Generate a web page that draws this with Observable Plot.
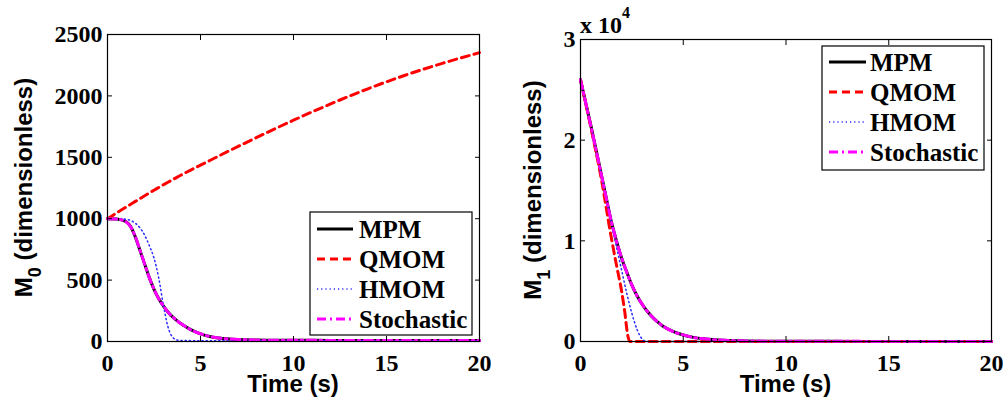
<!DOCTYPE html>
<html>
<head>
<meta charset="utf-8">
<script src="https://cdn.jsdelivr.net/npm/d3@7"></script>
<script src="https://cdn.jsdelivr.net/npm/@observablehq/plot@0.6"></script>
<style>
  html, body { margin: 0; padding: 0; background: #fff; color: #000; }
  #wrap { display: flex; width: 1008px; height: 403px; overflow: hidden; }
  #wrap svg { display: block; }
</style>
</head>
<body>
<div id="wrap"><div id="p0"></div><div id="p1"></div></div>
<script>
// ---------- data ----------
const seriesNames = ["MPM", "QMOM", "HMOM", "Stochastic"];
const xTicks = [0, 5, 10, 15, 20];
const y0Ticks = [0, 500, 1000, 1500, 2000, 2500];
const y1Ticks = [0, 10000, 20000, 30000];

// Left panel: M0
const t0 =      [0,    0.5,  1,    1.25, 1.5,  1.75, 2,    2.25, 2.5,  2.75, 3,    3.25, 3.5,  3.75, 4,    4.5,  5,    5.5,  6,    7,    8,    9,    10,   12,   14,   16,   18,   20];
const mpmM0 =   [1000, 998,  975,  935,  850,  740,  630,  520,  425,  350,  290,  240,  200,  168,  140,  95,   62,   40,   28,   16,   12,   10,   10,   9,    9,    9,    9,    9];
const qmomM0 =  [1000, 1048, 1095, 1118, 1141, 1164, 1187, 1210, 1232, 1254, 1276, 1297, 1318, 1339, 1359, 1398, 1436, 1474, 1512, 1587, 1660, 1732, 1802, 1935, 2058, 2168, 2265, 2352];
const hmomM0 =  [1000, 1000, 995,  985,  962,  925,  865,  780,  680,  520,  300,  120,  35,   12,   8,    7,    6,    6,    6,    6,    6,    6,    6,    6,    6,    6,    6,    6];
const stochM0 = [1000, 997,  973,  933,  852,  742,  628,  518,  427,  348,  291,  239,  201,  167,  141,  94,   63,   41,   28,   17,   12,   10,   10,   9,    9,    9,    9,    9];

// Right panel: M1
const t1 =      [0,     0.5,   1,     1.25,  1.5,   1.75,  2,    2.25, 2.5,  2.75, 3,    3.25, 3.5,  3.75, 4,    4.5,  5,   5.5, 6,   7,   8,  9,  10, 12, 14, 16, 18, 20];
const mpmM1 =   [26000, 21500, 16700, 14300, 11900, 10000, 8300, 6900, 5600, 4550, 3700, 3000, 2420, 1940, 1550, 1000, 640, 410, 270, 120, 60, 35, 25, 15, 12, 10, 10, 10];
const stochM1 = [26000, 21450, 16720, 14280, 11930, 9980,  8310, 6880, 5620, 4540, 3710, 2990, 2430, 1930, 1560, 990,  650, 400, 270, 120, 60, 35, 25, 15, 12, 10, 10, 10];
const tQ1 =     [0,     0.5,   1,     1.5,   1.75, 2,    2.15, 2.3, 2.4, 3, 5, 10, 15, 20];
const qmomM1 =  [26000, 21300, 16300, 10300, 7600, 5000, 3000, 600, 0,   0, 0, 0,  0,  0];
const tH1 =     [0,     0.5,   1,     1.5,   1.75, 2,    2.25, 2.5,  2.75, 3,   3.2, 4, 5, 10, 15, 20];
const hmomM1 =  [26000, 21500, 16600, 11800, 9400, 7100, 4800, 2800, 1200, 250, 0,   0, 0, 0,  0,  0];

// ---------- styles ----------
const styles = {
  MPM:        {stroke: "#000000", strokeWidth: 3},
  QMOM:       {stroke: "#ff0000", strokeWidth: 3, strokeDasharray: "8,5"},
  HMOM:       {stroke: "#2a2aff", strokeWidth: 1.5, strokeDasharray: "1.2,3"},
  Stochastic: {stroke: "#ff00ff", strokeWidth: 3, strokeDasharray: "9,4,2,4"}
};
const serif = "'Liberation Serif', 'Times New Roman', serif";
const sans = "'Liberation Sans', Arial, Helvetica, sans-serif";

const rows = (t, v) => t.map((x, i) => ({t: x, v: v[i]}));

function makePanel(cfg) {
  const plot = Plot.plot({
    width: 504,
    height: 403,
    marginLeft: cfg.ml, marginRight: cfg.mr, marginTop: cfg.mt, marginBottom: 62,
    style: {background: "white", color: "black", overflow: "visible"},
    x: {domain: [0, 20], label: null},
    y: {domain: cfg.yDomain, label: null},
    marks: [
      Plot.line(rows(cfg.series[0].t, cfg.series[0].v), {x: "t", y: "v", curve: "monotone-x", ...styles.MPM}),
      Plot.line(rows(cfg.series[1].t, cfg.series[1].v), {x: "t", y: "v", curve: "monotone-x", ...styles.QMOM}),
      Plot.line(rows(cfg.series[2].t, cfg.series[2].v), {x: "t", y: "v", curve: "monotone-x", ...styles.HMOM}),
      Plot.line(rows(cfg.series[3].t, cfg.series[3].v), {x: "t", y: "v", curve: "monotone-x", ...styles.Stochastic}),
      Plot.axisX({ticks: xTicks, tickSize: -5, tickPadding: 17, label: null}),
      Plot.axisX({anchor: "top", ticks: xTicks, tickSize: -5, tickFormat: () => "", label: null}),
      Plot.axisY({ticks: cfg.yTicks, tickSize: -5, tickPadding: 10, label: null, tickFormat: cfg.yFormat}),
      Plot.axisY({anchor: "right", ticks: cfg.yTicks, tickSize: -5, tickFormat: () => "", label: null}),
      Plot.frame({stroke: "black", strokeWidth: 1.2})
    ]
  });
  const svg = d3.select(plot);
  // style the library's tick labels (the only texts present so far)
  svg.selectAll("text")
    .attr("font-family", serif).attr("font-weight", "bold").attr("font-size", 24)
    .style("font-family", serif).style("font-weight", "bold").style("font-size", "24px");
  const W = 504, H = 403;
  const cx = (cfg.ml + (W - cfg.mr)) / 2;
  const cy = (cfg.mt + (H - 62)) / 2;

  // x label
  svg.append("text")
    .attr("x", cx).attr("y", 392)
    .attr("text-anchor", "middle")
    .style("font-family", sans).style("font-weight", "bold").style("font-size", "24px")
    .attr("fill", "black")
    .text("Time (s)");

  // y label with subscript
  const yl = svg.append("text")
    .attr("transform", `translate(${cfg.ylx},${cy}) rotate(-90)`)
    .attr("text-anchor", "middle")
    .style("font-family", sans).style("font-weight", "bold").style("font-size", "24px")
    .attr("fill", "black");
  yl.append("tspan").text("M");
  yl.append("tspan").attr("dy", 9).style("font-size", "18px").text(cfg.sub);
  yl.append("tspan").attr("dy", -9).text(" (dimensionless)");

  // exponent label
  if (cfg.exponent) {
    const ex = svg.append("text")
      .attr("x", cfg.ml).attr("y", 33)
      .attr("text-anchor", "start")
      .style("font-family", serif).style("font-weight", "bold").style("font-size", "24px")
      .attr("fill", "black");
    ex.append("tspan").text("x 10");
    ex.append("tspan").attr("dy", -15).style("font-size", "16px").text(cfg.exponent);
  }

  // legend
  const L = cfg.legend;
  const lg = svg.append("g");
  lg.append("rect")
    .attr("x", L.x0).attr("y", L.y0).attr("width", L.x1 - L.x0).attr("height", L.y1 - L.y0)
    .attr("fill", "white").attr("stroke", "black").attr("stroke-width", 1.2);
  seriesNames.forEach((name, i) => {
    const base = L.base0 + i * 30;
    const s = styles[name];
    lg.append("line")
      .attr("x1", L.lx0).attr("x2", L.lx1).attr("y1", base - 9).attr("y2", base - 9)
      .attr("stroke", s.stroke).attr("stroke-width", s.strokeWidth)
      .attr("stroke-dasharray", s.strokeDasharray || null);
    lg.append("text")
      .attr("x", L.tx).attr("y", base)
      .attr("text-anchor", "start")
      .style("font-family", serif).style("font-weight", "bold").style("font-size", "25px")
      .attr("fill", "black")
      .text(name);
  });
  return plot;
}

document.getElementById("p0").appendChild(makePanel({
  ml: 107, mr: 25, mt: 34,
  yDomain: [0, 2500], yTicks: y0Ticks, yFormat: d => String(d),
  sub: "0", ylx: 32,
  series: [{t: t0, v: mpmM0}, {t: t0, v: qmomM0}, {t: t0, v: hmomM0}, {t: t0, v: stochM0}],
  legend: {x0: 310, x1: 472, y0: 212, y1: 335, lx0: 317, lx1: 353, tx: 359, base0: 238}
}));

document.getElementById("p1").appendChild(makePanel({
  ml: 76, mr: 17, mt: 39,
  yDomain: [0, 30000], yTicks: y1Ticks, yFormat: d => String(d / 10000),
  sub: "1", ylx: 37, exponent: "4",
  series: [{t: t1, v: mpmM1}, {t: tQ1, v: qmomM1}, {t: tH1, v: hmomM1}, {t: t1, v: stochM1}],
  legend: {x0: 318, x1: 480, y0: 46, y1: 170, lx0: 325, lx1: 362, tx: 366, base0: 71}
}));
</script>
</body>
</html>
